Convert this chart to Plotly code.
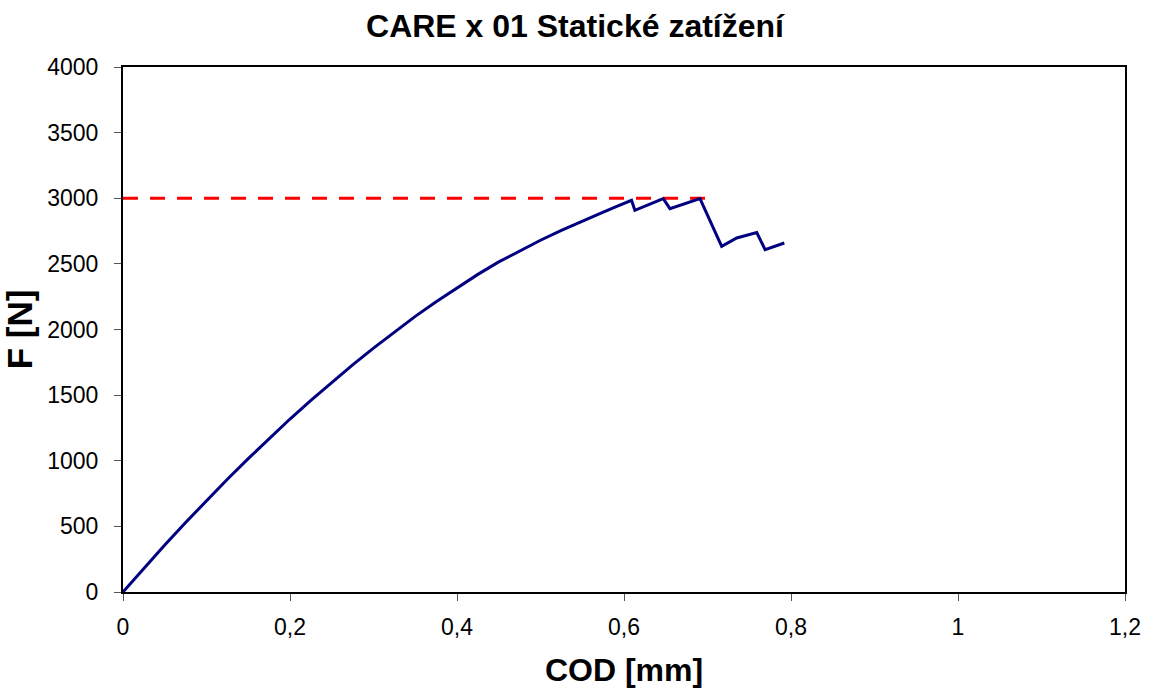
import plotly.graph_objects as go

# Load-displacement record (COD in mm, force in N)
cod_mm = [0, 0.025, 0.05, 0.075, 0.1, 0.125, 0.15, 0.175, 0.2, 0.225, 0.25,
          0.275, 0.3, 0.325, 0.35, 0.375, 0.4, 0.425, 0.45, 0.475, 0.5,
          0.525, 0.547, 0.571, 0.59, 0.609, 0.613, 0.647, 0.655, 0.691,
          0.717, 0.735, 0.759, 0.769, 0.792]
force_n = [0, 180, 358, 530, 697, 859, 1016, 1168, 1318, 1460, 1598,
           1730, 1858, 1982, 2100, 2212, 2318, 2420, 2515, 2600, 2680,
           2755, 2819, 2883, 2935, 2984, 2908, 2997, 2921, 2997,
           2634, 2697, 2738, 2609, 2659]

# Static load level reference line
ref_x = [0, 0.70]
ref_y = [3000, 3000]

x_ticks = [0, 0.2, 0.4, 0.6, 0.8, 1.0, 1.2]
x_tick_text = ["0", "0,2", "0,4", "0,6", "0,8", "1", "1,2"]
y_ticks = [0, 500, 1000, 1500, 2000, 2500, 3000, 3500, 4000]
y_tick_text = [str(v) for v in y_ticks]

font_family = "Liberation Sans, Arial, sans-serif"

fig = go.Figure()
fig.add_trace(go.Scatter(
    x=ref_x, y=ref_y, mode="lines",
    line=dict(color="#FF0000", width=3, dash="15px,12px"),
    showlegend=False, hoverinfo="skip",
))
fig.add_trace(go.Scatter(
    x=cod_mm, y=force_n, mode="lines",
    line=dict(color="#000080", width=3),
    showlegend=False,
))

axis_common = dict(
    showgrid=False, zeroline=False, automargin=False,
    showline=True, linecolor="black", linewidth=2, mirror=True,
    ticks="outside", ticklen=7, tickcolor="#555555", tickwidth=1,
    tickfont=dict(family=font_family, size=23, color="black"),
)

fig.update_layout(
    width=1150, height=688,
    margin=dict(l=123, r=25, t=67, b=96),
    paper_bgcolor="white", plot_bgcolor="white",
    title=dict(
        text="<b>CARE x 01 Statické zatížení</b>",
        font=dict(family=font_family, size=32, color="black"),
        x=0.5, xanchor="center", y=0.962, yanchor="middle",
    ),
    xaxis=dict(
        range=[0, 1.2], tickvals=x_ticks, ticktext=x_tick_text,
        ticklabelstandoff=6,
        title=dict(text="<b>COD [mm]</b>", font=dict(family=font_family, size=32, color="black"),
                   standoff=20),
        **axis_common,
    ),
    yaxis=dict(
        range=[0, 4000], tickvals=y_ticks, ticktext=y_tick_text,
        ticklabelstandoff=11,
        title=dict(text="<b>F [N]</b>", font=dict(family=font_family, size=35, color="black"),
                   standoff=4),
        **axis_common,
    ),
)

fig.write_html("out.html")
